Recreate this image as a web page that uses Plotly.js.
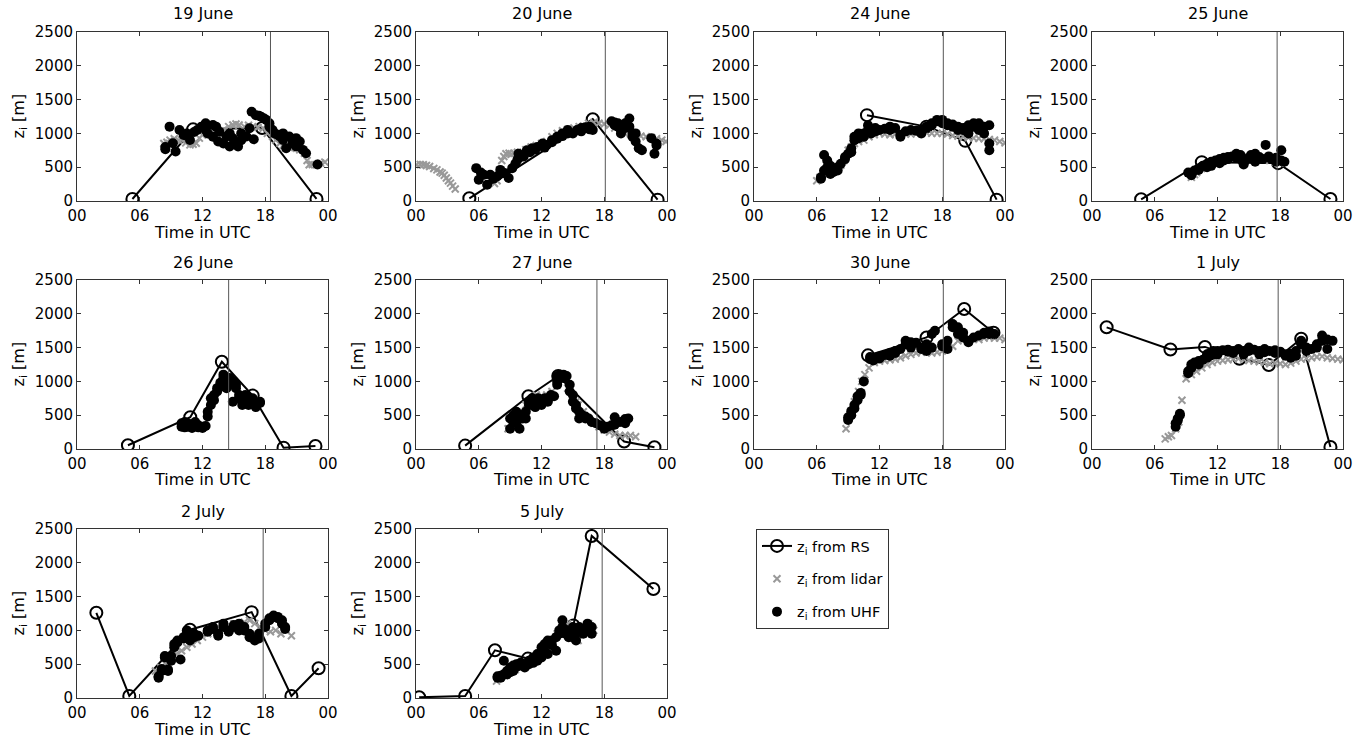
<!DOCTYPE html>
<html>
<head>
<meta charset="utf-8">
<script src="https://cdn.plot.ly/plotly-3.0.1.min.js"></script>
<style>
html, body { margin: 0; padding: 0; background: #fff; }
#chart { width: 1369px; height: 743px; }
</style>
</head>
<body>
<div id="chart"></div>
<script>
// day of each panel and time of the vertical marker line (hours UTC)
var dayLabels = ["19 June", "20 June", "24 June", "25 June", "26 June",
                 "27 June", "30 June", "1 July", "2 July", "5 July"];
var markerTimes = [18.5, 18.1, 18.1, 17.7, 14.5, 17.3, 18.1, 17.8, 17.8, 17.8];

var xTickVals = [0, 6, 12, 18, 24];
var xTickText = ["00", "06", "12", "18", "00"];
var yTickVals = [0, 500, 1000, 1500, 2000, 2500];

// radiosonde zi: [time, zi]
var rs_19jun = [[5.3,30],[11.1,1060],[17.7,1080],[22.9,30]];
var rs_20jun = [[5.1,40],[16.9,1210],[23.1,20]];
var rs_24jun = [[10.8,1270],[16.5,1100],[20.2,890],[23.2,20]];
var rs_25jun = [[4.7,25],[10.5,575],[17.8,560],[22.8,30]];
var rs_26jun = [[4.87,55],[10.83,470],[13.85,1290],[16.8,790],[19.75,20],[22.8,45]];
var rs_27jun = [[4.7,50],[10.75,780],[13.6,1080],[19.9,110],[22.8,25]];
var rs_30jun = [[10.9,1385],[16.5,1650],[20.1,2070],[22.9,1720]];
var rs_01jul = [[1.4,1800],[7.5,1473],[10.8,1510],[14.1,1335],[16.9,1243],[20.0,1630],[22.8,30]];
var rs_02jul = [[1.85,1260],[5.0,30],[10.8,1010],[16.7,1270],[20.5,30],[23.1,440]];
var rs_05jul = [[0.3,10],[4.7,30],[7.55,706],[10.7,583],[15.05,1074],[16.8,2397],[22.7,1613]];

// lidar zi: [time, zi]
var lidar_19jun = [[8.3,850],[8.6,870],[8.9,900],[9.3,920],[9.7,900],[10.0,903],[10.4,860],[10.8,830],
  [11.1,840],[11.4,854],[11.7,930],[12.0,977],[12.5,1000],[13.0,1026],[13.5,1000],[14.0,1050],
  [14.5,1100],[14.9,1124],[15.2,1140],[15.5,1124],[16.0,1100],[16.4,1120],[16.8,1100],[17.3,1090],
  [17.8,1075],[18.2,1000],[18.7,953],[19.0,900],[19.4,854],[19.7,820],[20.0,805],[20.3,790],
  [20.6,805],[21.0,780],[21.3,756],[21.75,707],[22.0,600],[22.2,535],[22.5,540],[22.9,535],
  [23.3,560],[23.7,575]];
var lidar_20jun = [[0.05,535],[0.4,540],[0.7,535],[1.0,525],[1.3,510],[1.7,480],[2.0,460],[2.3,430],
  [2.5,412],[2.7,380],[2.9,340],[3.1,300],[3.3,265],[3.5,220],[3.75,177],
  [7.5,260],[7.75,300],[8.0,450],[8.2,600],[8.4,658],[8.6,700],[8.9,707],[9.1,690],[9.35,707],
  [9.7,720],[10.0,720],[10.5,760],[11.0,800],[11.5,820],[12.0,850],[12.5,880],[13.0,950],
  [13.5,1000],[14.0,1040],[14.5,1060],[15.1,1080],[15.6,1100],[16.0,1110],[16.5,1150],[17.0,1160],
  [17.5,1150],[18.0,1140],[18.5,1120],[19.0,1080],[19.5,1030],[20.0,1000],[20.5,990],[21.0,980],
  [21.5,960],[22.0,950],[22.5,940],[23.0,920],[23.5,900],[23.9,880]];
var lidar_24jun = [[6.0,300],[6.3,350],[6.6,400],[7.0,430],[7.5,450],[8.0,480],[8.3,530],[8.6,600],
  [9.0,750],[9.3,800],[9.6,850],[10.0,880],[10.5,900],[11.0,950],[11.5,980],[12.0,1000],[12.5,990],
  [13.0,980],[13.5,990],[14.0,1000],[14.5,990],[15.0,990],[15.5,1000],[16.0,1000],[16.5,1010],
  [17.0,1000],[17.5,1000],[18.0,1000],[18.5,990],[19.0,970],[19.5,960],[20.0,950],[20.5,940],
  [21.0,930],[21.5,925],[22.0,920],[22.5,910],[23.0,900],[23.5,880],[24.0,860]];
var lidar_25jun = [[9.5,350],[9.8,390],[10.0,420],[10.5,480],[11.0,520],[11.5,560],[12.0,600],
  [12.5,620],[13.0,650],[13.5,660],[14.0,650],[14.5,640],[15.0,650],[15.5,650],[16.0,640],
  [16.5,630],[17.0,600],[17.5,580],[18.0,560]];
var lidar_26jun = [];
var lidar_27jun = [[8.8,300],[9.2,400],[9.5,500],[10.0,550],[10.5,650],[11.0,700],[11.5,800],
  [12.0,750],[12.5,800],[13.0,850],[13.5,1000],[14.0,1050],[14.5,900],[15.0,750],[15.3,700],
  [15.5,650],[16.0,550],[16.5,450],[17.0,380],[17.5,330],[18.0,280],[18.5,250],[19.0,220],
  [19.5,200],[20.0,200],[20.5,200],[21.0,180]];
var lidar_30jun = [[8.8,300],[9.0,450],[9.3,550],[9.6,700],[10.0,850],[10.3,1000],[10.6,1100],
  [11.0,1200],[11.5,1280],[12.0,1300],[12.5,1310],[13.0,1320],[13.5,1330],[14.0,1350],[14.5,1380],
  [15.0,1400],[15.5,1420],[16.0,1430],[16.5,1440],[17.0,1420],[17.5,1430],[18.0,1450],[18.5,1480],
  [19.0,1520],[19.5,1600],[20.0,1620],[20.5,1640],[21.0,1630],[21.5,1620],[22.0,1640],[22.5,1650],
  [23.0,1640],[23.5,1640],[24.0,1620]];
var lidar_01jul = [[7.0,150],[7.3,180],[7.6,200],[8.0,300],[8.3,400],[8.6,720],[9.0,1040],[9.5,1100],
  [10.0,1150],[10.5,1200],[11.0,1250],[11.5,1280],[12.0,1300],[12.5,1310],[13.0,1320],[13.5,1330],
  [14.0,1340],[14.5,1330],[15.0,1310],[15.5,1300],[16.0,1290],[16.5,1280],[17.0,1260],[17.5,1270],
  [18.0,1260],[18.5,1250],[19.0,1270],[19.5,1300],[20.0,1330],[20.5,1340],[21.0,1350],[21.5,1360],
  [22.0,1370],[22.5,1350],[23.0,1340],[23.5,1330],[24.0,1320]];
var lidar_02jul = [[7.5,400],[8.0,450],[8.5,500],[9.0,550],[9.5,650],[10.0,700],[10.5,750],
  [11.0,800],[11.5,850],[12.0,900],[12.5,950],[13.0,1000],[13.5,1050],[14.0,1050],[14.5,1080],
  [15.0,1100],[15.5,1100],[16.0,1120],[16.5,1150],[17.0,1100],[17.5,1050],[18.0,1000],[18.5,980],
  [19.0,1000],[19.5,950],[20.0,1000],[20.5,920]];
var lidar_05jul = [[7.7,250],[8.0,300],[8.5,330],[9.0,380],[9.5,420],[10.0,480],[10.5,500],
  [11.0,550],[11.5,600],[12.0,700],[12.5,800],[13.0,850],[13.5,950],[14.0,1050],[14.5,1100],
  [15.0,1000],[15.5,850],[16.0,1050],[16.5,1100],[17.0,1000]];

// UHF profiler zi: [time, zi, zi, ...] (several detections per time step)
var uhf_19jun = [[8.45,766,800],[8.85,1100],[9.17,854],[9.43,731],[9.8,1050],[10.2,977],[10.5,1000],
  [10.8,903],[11.2,1020],[11.5,1050],[11.9,1100],[12.3,1150,1050],[12.5,1000],[13.0,1125,950],
  [13.3,1100],[13.5,880],[13.6,1026],[14.0,850],[14.3,953],[14.6,805,1000],[14.9,928],[15.2,870],
  [15.4,805],[15.7,1000,900],[16.2,953],[16.5,1075],[16.7,1320],[16.9,913],[17.1,1270],[17.4,1260],
  [17.6,1247],[17.9,1220],[18.1,1200],[18.4,1100,1150],[18.7,1050],[18.9,1000],[19.2,980],
  [19.4,953],[19.7,903,1000],[20.0,780],[20.3,953],[20.6,854],[20.95,805,930],[21.3,879],
  [21.6,756],[21.9,707],[23.0,540]];
var uhf_20jun = [[5.76,486],[6.0,314],[6.2,420],[6.5,388],[6.8,240],[7.1,388],[7.4,330],[7.75,363],
  [8.06,460],[8.3,420],[8.5,412],[8.86,339],[9.2,486],[9.5,550],[9.7,609],[9.8,700],[10.0,650],
  [10.3,658],[10.6,750],[10.9,720],[11.1,780],[11.4,760],[11.6,800],[12.1,850],[12.3,790],
  [12.5,830],[13.0,900,870],[13.5,950,920],[14.0,1000,960],[14.5,1050,1000],[15.0,1000],
  [15.4,1050],[15.8,1080,1030],[16.2,1090],[16.6,1100,1060],[16.9,1050],
  [18.7,1180],[19.0,1160,1120],[19.3,1100,1150],[19.6,1050,1000],[20.0,1080,1150],
  [20.4,1220,1100],[20.7,1000,950],[21.0,880,1000],[21.3,780],[21.6,750],[22.5,930],[22.8,700],
  [23.0,850,820]];
var uhf_24jun = [[6.4,330,350],[6.7,680,450],[7.0,600,500],[7.3,520,400],[7.6,480,430],[8.0,500,450],
  [8.3,550],[8.7,620,650],[9.0,700],[9.3,780,720],[9.6,900,950],[10.0,930,1000],[10.5,1000,950],
  [10.9,1120,1050],[11.2,1050,1000],[11.6,1080,1030],[12.0,1050],[12.5,1070],[13.0,1100,1050],
  [13.5,1080],[14.0,980,950],[14.5,1030],[15.0,1050],[15.5,1040],[16.0,1050,1000],[16.5,1100,1080],
  [17.0,1120,1150],[17.5,1180,1200],[18.0,1200,1150],[18.5,1150,1120],[19.0,1130,1100],
  [19.5,1100,1050],[20.0,1080,1050],[20.5,1120,1000],[21.0,1150,1100],[21.5,1150,1050],
  [22.0,1000,1100],[22.5,1120,850,750]];
var uhf_25jun = [[9.2,420],[9.5,400,380],[9.8,450],[10.2,480,460],[10.6,520],[11.0,550,500],
  [11.4,580,520],[11.8,600],[12.2,620,560],[12.6,640,600],[13.0,650,620],[13.4,660],[13.8,700,640],
  [14.2,680,620],[14.5,560,540],[14.8,620],[15.2,680,640],[15.6,700,580],[16.0,650],[16.3,620],
  [16.6,830],[16.9,660,640],[17.2,620],[17.6,640,580],[18.1,750,600],[18.4,580]];
var uhf_26jun = [[10.0,380,330],[10.3,400,320],[10.6,380,330],[11.0,360,310],[11.3,400,340],
  [11.6,320,350],[12.0,330,310],[12.3,340],[12.5,550,480],[12.8,750,650],[13.1,800,720],
  [13.4,900,850],[13.7,980,920],[14.0,1100,1050],[14.3,1000,900],[14.6,1050,950],[14.9,1000,700],
  [15.2,950,900],[15.5,800,750],[15.8,700,650],[16.1,800,720],[16.4,650,700],[16.8,750,680],
  [17.1,620,650],[17.5,700,680]];
var uhf_27jun = [[9.0,300,450],[9.3,500,400],[9.6,550,450,380],[9.9,300,480],[10.2,450,500],
  [10.5,550,450],[10.8,650,700],[11.1,750,650],[11.4,700,620],[11.7,750],[12.0,700,650],[12.3,750],
  [12.6,720,700],[12.9,800],[13.2,780],[13.5,1000,950,1080],[13.8,1100,1050],[14.1,1100,1050],
  [14.4,1080],[14.7,950,850],[15.0,800,700],[15.3,650,600],[15.6,550,450],[15.9,500],
  [16.2,450,480],[16.5,450],[16.8,400],[17.2,380],[17.6,350],[18.0,300],[18.3,330],[18.7,350],
  [19.0,470,360],[19.5,400],[20.0,445,380],[20.3,450]];
var uhf_30jun = [[9.0,430,470],[9.3,500,560],[9.6,600,650],[9.9,720,780],[10.2,830,800],[10.5,1000],
  [11.1,1330,1360],[11.4,1310,1340],[11.7,1350],[12.0,1370,1340],[12.5,1390],[13.0,1420,1380],
  [13.5,1450,1420],[14.0,1480],[14.5,1600,1550],[15.0,1580,1500],[15.5,1570],[16.0,1500,1480],
  [16.5,1550,1450],[17.0,1700,1500],[17.3,1750],[18.0,1550,1520],[18.5,1600,1480],[19.0,1850,1800],
  [19.5,1800,1700],[20.0,1650,1720],[20.5,1600,1580],[21.0,1650],[21.5,1680],[22.0,1700,1720],
  [22.5,1740,1700],[23.0,1700]];
var uhf_01jul = [[8.0,330,380],[8.2,420,450],[8.4,500,520],[9.2,1120,1150],[9.5,1200,1250],
  [9.8,1280],[10.2,1300,1250],[10.6,1320],[11.0,1350,1400],[11.3,1420,1380],[11.6,1450,1400],
  [12.0,1400,1450],[12.5,1460],[13.0,1470,1440],[13.5,1450,1420],[14.0,1480],[14.5,1450,1400],
  [15.0,1500,1450],[15.5,1470],[16.0,1400,1450],[16.5,1480,1430],[17.0,1450],[17.5,1460,1420],
  [18.0,1440],[18.5,1400,1380],[19.0,1410,1350],[19.5,1450,1380],[20.0,1600,1550],[20.5,1500,1450],
  [21.0,1480],[21.5,1500,1550],[22.0,1680,1600],[22.5,1620,1480],[23.0,1600]];
var uhf_02jul = [[7.8,300,320],[8.1,430,400],[8.4,620,600],[8.7,400,420],[9.0,550,620],[9.3,800,750],
  [9.6,850,820],[9.9,570],[10.2,900,880],[10.5,950,1000],[10.8,900,850],[11.2,900,950],[11.6,920],
  [12.5,1000,980],[13.0,1050,1020],[13.5,950,920],[14.0,1100,1050],[14.5,1000,980],[15.0,1080,1050],
  [15.5,1100,1000],[16.0,1050,1000],[16.5,950,900],[17.0,870,850],[17.4,880,950],[18.0,1050,1100],
  [18.4,1150,1180],[18.8,1200,1220],[19.2,1200,1180],[19.6,1150,1100],[19.9,1050,1020]];
var uhf_05jul = [[7.8,300,320],[8.1,330,300],[8.4,350,550],[8.7,400,350],[9.0,450,380],[9.3,480,400],
  [9.6,500,460],[10.0,480,520],[10.4,500,450],[10.8,550,500],[11.2,600,520],[11.6,650,550],
  [12.0,750,600],[12.3,800,700],[12.6,850,650],[13.0,850,780],[13.4,700,900],[13.7,1000,950],
  [14.0,1150,1050],[14.3,1000,950],[14.6,900,980],[15.0,900,1050],[15.3,850,950],[15.6,1000,1050],
  [16.0,1000,950],[16.4,1100,1000],[16.8,1050,950]];

var rsSets = [rs_19jun, rs_20jun, rs_24jun, rs_25jun, rs_26jun, rs_27jun, rs_30jun, rs_01jul, rs_02jul, rs_05jul];
var lidarSets = [lidar_19jun, lidar_20jun, lidar_24jun, lidar_25jun, lidar_26jun, lidar_27jun, lidar_30jun, lidar_01jul, lidar_02jul, lidar_05jul];
var uhfSets = [uhf_19jun, uhf_20jun, uhf_24jun, uhf_25jun, uhf_26jun, uhf_27jun, uhf_30jun, uhf_01jul, uhf_02jul, uhf_05jul];

var W = 1369, H = 743;
var colLeft = [77, 416, 754, 1092];
var rowTop = [32, 280, 529];
var plotW = 251, plotH = 169;
var fontFamily = "DejaVu Sans, Liberation Sans, Arial, sans-serif";

function flatten(rows) {
    var xs = [], ys = [];
    rows.forEach(function (r) {
        for (var k = 1; k < r.length; k++) {
            xs.push(r[0]);
            ys.push(r[k]);
        }
    });
    return {x: xs, y: ys};
}

var data = [];
var layout = {
    width: W,
    height: H,
    margin: {l: 0, r: 0, t: 0, b: 0},
    paper_bgcolor: "#fff",
    plot_bgcolor: "#fff",
    font: {family: fontFamily, size: 15, color: "#000"},
    showlegend: true,
    legend: {
        x: 756 / W, y: 1 - 529 / H,
        xanchor: "left", yanchor: "top",
        bgcolor: "#fff",
        bordercolor: "#333",
        borderwidth: 1,
        font: {size: 14.5},
        tracegroupgap: 11
    },
    annotations: [],
    shapes: []
};

dayLabels.forEach(function (day, i) {
    var col = i % 4, row = Math.floor(i / 4);
    var n = i + 1;
    var xa = n == 1 ? "x" : "x" + n;
    var ya = n == 1 ? "y" : "y" + n;
    var left = colLeft[col], top = rowTop[row];

    var axisStyle = {
        showline: true,
        linecolor: "#333",
        linewidth: 1,
        mirror: "ticks",
        ticks: "inside",
        ticklen: 4,
        tickcolor: "#333",
        showgrid: false,
        zeroline: false,
        tickfont: {size: 15}
    };

    layout["xaxis" + (n == 1 ? "" : n)] = Object.assign({}, axisStyle, {
        domain: [left / W, (left + plotW) / W],
        anchor: ya,
        range: [0, 24],
        tickvals: xTickVals,
        ticktext: xTickText,
        ticklabelstandoff: 1
    });
    layout["yaxis" + (n == 1 ? "" : n)] = Object.assign({}, axisStyle, {
        domain: [1 - (top + plotH) / H, 1 - top / H],
        anchor: xa,
        range: [0, 2500],
        tickvals: yTickVals
    });

    var rs = flatten(rsSets[i]);
    data.push({
        x: rs.x, y: rs.y, xaxis: xa, yaxis: ya,
        type: "scatter", mode: "lines+markers",
        name: "z<sub>i</sub> from RS", legendgroup: "rs", showlegend: i == 0,
        line: {color: "#000", width: 2},
        marker: {symbol: "circle-open", size: 12, color: "#000", line: {width: 2}}
    });
    var li = flatten(lidarSets[i]);
    data.push({
        x: li.x, y: li.y, xaxis: xa, yaxis: ya,
        type: "scatter", mode: "markers",
        name: "z<sub>i</sub> from lidar", legendgroup: "lidar", showlegend: i == 0,
        marker: {symbol: "x-thin-open", size: 7, color: "#999", line: {width: 2, color: "#999"}}
    });
    var uh = flatten(uhfSets[i]);
    data.push({
        x: uh.x, y: uh.y, xaxis: xa, yaxis: ya,
        type: "scatter", mode: "markers",
        name: "z<sub>i</sub> from UHF", legendgroup: "uhf", showlegend: i == 0,
        marker: {symbol: "circle", size: 10, color: "#000"}
    });

    layout.shapes.push({
        type: "line", xref: xa, yref: ya,
        x0: markerTimes[i], x1: markerTimes[i], y0: 0, y1: 2500,
        line: {color: "#555", width: 1}
    });

    // panel title
    layout.annotations.push({
        text: day, xref: "paper", yref: "paper",
        x: (left + plotW / 2) / W, y: 1 - (top - 18) / H,
        xanchor: "center", yanchor: "middle", showarrow: false,
        font: {size: 16}
    });
    // x axis title
    layout.annotations.push({
        text: "Time in UTC", xref: "paper", yref: "paper",
        x: (left + plotW / 2) / W, y: 1 - (top + plotH + 31) / H,
        xanchor: "center", yanchor: "middle", showarrow: false,
        font: {size: 16}
    });
    // y axis title
    layout.annotations.push({
        text: "z<sub>i</sub> [m]", xref: "paper", yref: "paper",
        x: (left - 58) / W, y: 1 - (top + plotH / 2) / H,
        xanchor: "center", yanchor: "middle", showarrow: false,
        textangle: -90,
        font: {size: 16}
    });
});

Plotly.newPlot("chart", data, layout, {displayModeBar: false, staticPlot: true});
</script>
</body>
</html>
